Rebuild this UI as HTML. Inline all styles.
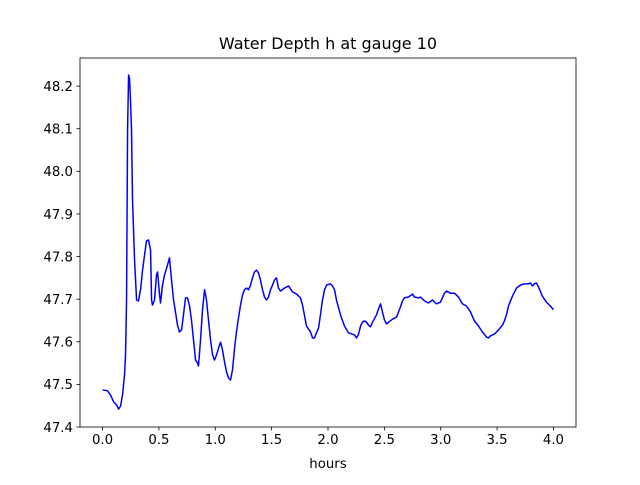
<!DOCTYPE html>
<html><head><meta charset="utf-8"><style>
body{margin:0;background:#fff}
svg text{font-family:"DejaVu Sans","Liberation Sans",sans-serif;fill:#000}
</style></head><body>
<svg id="chart" width="640" height="480" viewBox="0 0 640 480" xmlns="http://www.w3.org/2000/svg">
<rect width="640" height="480" fill="#fff"/>
<text x="328" y="49" font-size="16" text-anchor="middle">Water Depth h at gauge 10</text>
<g id="plot"></g>
<text x="328" y="468" font-size="13.3" text-anchor="middle">hours</text>
</svg>
<script>
const hours=[0,0.044,0.071,0.098,0.124,0.142,0.160,0.177,0.195,0.204,0.213,0.222,0.231,0.239,0.248,0.257,0.266,0.284,0.302,0.319,0.337,0.355,0.373,0.390,0.408,0.426,0.435,0.443,0.461,0.479,0.488,0.506,0.514,0.532,0.550,0.576,0.594,0.612,0.630,0.647,0.665,0.683,0.701,0.718,0.736,0.754,0.772,0.789,0.807,0.825,0.843,0.851,0.869,0.887,0.905,0.922,0.940,0.958,0.976,0.993,1.011,1.029,1.047,1.064,1.082,1.100,1.118,1.135,1.153,1.171,1.188,1.206,1.224,1.242,1.259,1.277,1.295,1.313,1.330,1.348,1.366,1.384,1.401,1.419,1.437,1.455,1.472,1.490,1.508,1.525,1.543,1.561,1.579,1.614,1.650,1.685,1.721,1.756,1.774,1.792,1.809,1.845,1.863,1.880,1.898,1.916,1.933,1.951,1.969,1.987,2.022,2.040,2.058,2.075,2.111,2.146,2.182,2.235,2.253,2.271,2.289,2.306,2.324,2.342,2.359,2.377,2.395,2.430,2.448,2.466,2.483,2.501,2.519,2.537,2.572,2.608,2.643,2.661,2.678,2.714,2.750,2.767,2.803,2.820,2.856,2.891,2.927,2.962,2.998,3.033,3.051,3.087,3.122,3.157,3.193,3.228,3.264,3.299,3.335,3.370,3.406,3.423,3.441,3.477,3.512,3.548,3.565,3.583,3.601,3.636,3.672,3.707,3.743,3.778,3.796,3.814,3.831,3.849,3.867,3.902,3.938,3.973,4.000];
const depth=[47.487,47.485,47.475,47.459,47.452,47.442,47.449,47.475,47.522,47.569,47.698,48.097,48.226,48.219,48.167,48.097,47.933,47.792,47.698,47.696,47.722,47.768,47.804,47.837,47.839,47.815,47.698,47.686,47.698,47.757,47.764,47.710,47.691,47.733,47.757,47.780,47.797,47.745,47.698,47.670,47.639,47.623,47.628,47.663,47.703,47.703,47.684,47.651,47.604,47.557,47.550,47.543,47.604,47.675,47.722,47.698,47.651,47.604,47.569,47.557,47.569,47.585,47.599,47.581,47.553,47.529,47.515,47.510,47.534,47.585,47.623,47.656,47.686,47.710,47.722,47.726,47.722,47.733,47.750,47.764,47.768,47.761,47.745,47.722,47.705,47.698,47.705,47.722,47.733,47.745,47.750,47.726,47.719,47.726,47.731,47.717,47.712,47.703,47.686,47.661,47.637,47.623,47.609,47.609,47.621,47.632,47.663,47.698,47.722,47.733,47.736,47.731,47.722,47.698,47.663,47.637,47.621,47.616,47.609,47.618,47.637,47.646,47.649,47.646,47.639,47.635,47.646,47.663,47.677,47.689,47.670,47.651,47.642,47.646,47.653,47.658,47.682,47.696,47.703,47.705,47.712,47.705,47.703,47.705,47.696,47.691,47.698,47.689,47.693,47.714,47.719,47.714,47.714,47.705,47.689,47.684,47.670,47.649,47.637,47.623,47.611,47.609,47.614,47.618,47.628,47.639,47.649,47.663,47.684,47.707,47.726,47.733,47.736,47.736,47.738,47.731,47.736,47.738,47.729,47.707,47.693,47.684,47.675];
const xTicks=[0,0.5,1,1.5,2,2.5,3,3.5,4];
const xTickLabels=["0.0","0.5","1.0","1.5","2.0","2.5","3.0","3.5","4.0"];
const yTicks=[47.4,47.5,47.6,47.7,47.8,47.9,48.0,48.1,48.2];
const yTickLabels=["47.4","47.5","47.6","47.7","47.8","47.9","48.0","48.1","48.2"];

const L=80,R=576,T=58,B=427;
const xmin=-0.2,xmax=4.2,ymin=47.4,ymax=48.266;
const sx=v=>L+(v-xmin)/(xmax-xmin)*(R-L);
const sy=v=>B-(v-ymin)/(ymax-ymin)*(B-T);
const NS="http://www.w3.org/2000/svg";
const g=document.getElementById('plot');
function mk(tag,attrs){const e=document.createElementNS(NS,tag);for(const k in attrs)e.setAttribute(k,attrs[k]);g.appendChild(e);return e;}

const line=mk('polyline',{points:hours.map((h,i)=>sx(h).toFixed(2)+','+sy(depth[i]).toFixed(2)).join(' '),fill:'none',stroke:'#0000ff','stroke-width':1.5,'stroke-linejoin':'round'});



const frame=mk('rect',{x:L,y:T,width:R-L,height:B-T,fill:'none',stroke:'#000','stroke-width':0.8});



xTicks.forEach((v,i)=>{
  const x=sx(v);
  const t=mk('line',{x1:x,x2:x,y1:B,y2:B+3.5,stroke:'#000','stroke-width':0.8});
  
  
  const tx=mk('text',{x:x,y:B+17,'font-size':13.3,'text-anchor':'middle'});
  tx.textContent=xTickLabels[i];
  
  
});
yTicks.forEach((v,i)=>{
  const y=sy(v);
  const t=mk('line',{x1:L-3.5,x2:L,y1:y,y2:y,stroke:'#000','stroke-width':0.8});
  
  
  const tx=mk('text',{x:L-7,y:y+4.8,'font-size':13.3,'text-anchor':'end'});
  tx.textContent=yTickLabels[i];
  
  
});
</script>
</body></html>
